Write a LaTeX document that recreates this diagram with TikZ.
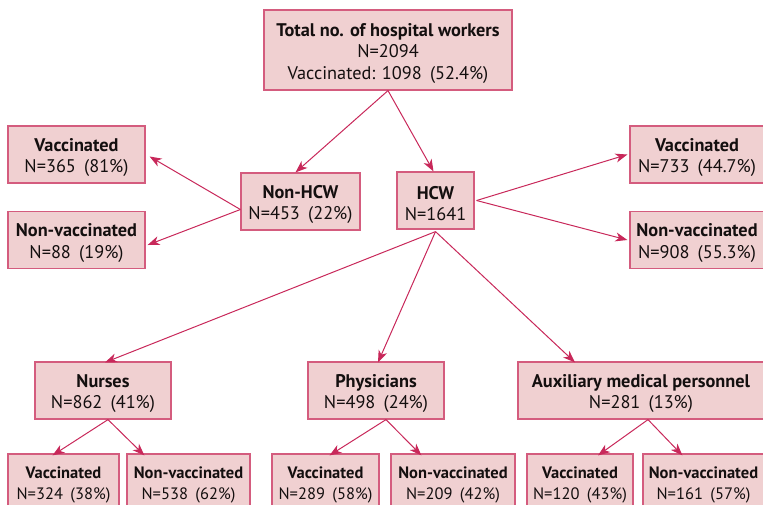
\documentclass[tikz,border=0pt]{standalone}
\usepackage{fontspec}
\setmainfont{PT Sans}
\usetikzlibrary{arrows.meta,calc}
\definecolor{boxfill}{RGB}{240,208,209}
\definecolor{boxline}{RGB}{212,92,126}
\definecolor{arrowc}{RGB}{200,40,90}
\definecolor{txt}{RGB}{20,15,15}
\newcommand\gp{\hspace{0.45em}}
\newcommand\upA{\rule{0pt}{19.5pt}}
\newcommand\upB{\rule{0pt}{16.5pt}}
\begin{document}
\begin{tikzpicture}[x=1pt,y=-1pt,
  box/.style={draw=boxline, fill=boxfill, line width=1.2pt, align=center, inner sep=0pt, text=txt,
    font=\fontsize{18.3}{21.5}\selectfont},
  small/.style={font=\fontsize{16.5}{21}\selectfont},
  arr/.style={draw=arrowc, line width=1pt, -{Stealth[length=12pt,width=9pt,inset=3.5pt]}}]
\useasboundingbox (0,0) rectangle (763,504);
\clip (0,0) rectangle (763,504);
% top
\node[box, minimum width=248pt, minimum height=80pt] (total) at (388,50)
  {\upA\textbf{Total no. of hospital workers}\\N=2094\\Vaccinated: 1098\gp(52.4\%)};
% level 2
\node[box, minimum width=119pt, minimum height=57pt] (nonhcw) at (300.5,201.5) {\upA\textbf{Non-HCW}\\N=453\gp(22\%)};
\node[box, minimum width=77pt, minimum height=57pt] (hcw) at (435.5,200.5) {\upA\textbf{HCW}\\N=1641};
\node[box, minimum width=137pt, minimum height=57pt] (lv) at (76.5,154.5) {\upA\textbf{Vaccinated}\\N=365\gp(81\%)};
\node[box, minimum width=137pt, minimum height=57pt] (lnv) at (76.5,240) {\upA\textbf{Non-vaccinated}\\N=88\gp(19\%)};
\node[box, minimum width=134pt, minimum height=57pt] (rv) at (697,154.5) {\upA\textbf{Vaccinated}\\N=733\gp(44.7\%)};
\node[box, minimum width=134pt, minimum height=57pt] (rnv) at (697,240) {\upA\textbf{Non-vaccinated}\\N=908\gp(55.3\%)};
% level 3
\node[box, minimum width=136pt, minimum height=57pt] (nurses) at (103,390.5) {\upA\textbf{Nurses}\\N=862\gp(41\%)};
\node[box, minimum width=136pt, minimum height=57pt] (phys) at (376,390.5) {\upA\textbf{Physicians}\\N=498\gp(24\%)};
\node[box, minimum width=246pt, minimum height=57pt] (aux) at (641,390.5) {\upA\textbf{Auxiliary medical personnel}\\N=281\gp(13\%)};
% level 4
\node[box, small, minimum width=111pt, minimum height=57pt] (nv) at (63.5,482.5) {\upB\textbf{Vaccinated}\\N=324\gp(38\%)};
\node[box, small, minimum width=123pt, minimum height=57pt] (nn) at (188.5,482.5) {\upB\textbf{Non-vaccinated}\\N=538\gp(62\%)};
\node[box, small, minimum width=107pt, minimum height=57pt] (pv) at (325.5,482.5) {\upB\textbf{Vaccinated}\\N=289\gp(58\%)};
\node[box, small, minimum width=124pt, minimum height=57pt] (pn) at (453,482.5) {\upB\textbf{Non-vaccinated}\\N=209\gp(42\%)};
\node[box, small, minimum width=106pt, minimum height=57pt] (av) at (580,482.5) {\upB\textbf{Vaccinated}\\N=120\gp(43\%)};
\node[box, small, minimum width=121pt, minimum height=57pt] (an) at (703.5,482.5) {\upB\textbf{Non-vaccinated}\\N=161\gp(57\%)};
% connectors
\draw[arr] (total.south) -- ([xshift=-5pt]nonhcw.north);
\draw[arr] (total.south) -- ([xshift=-2pt]hcw.north);
\draw[arr] ([yshift=-8pt]nonhcw.west) -- ([xshift=4pt,yshift=-2pt]lv.east);
\draw[arr] ([yshift=-8pt]nonhcw.west) -- ([xshift=2pt,yshift=-5pt]lnv.east);
\draw[arr] ([xshift=2pt]hcw.east) -- ([xshift=-2pt]rv.west);
\draw[arr] ([xshift=2pt]hcw.east) -- ([xshift=-2pt]rnv.west);
\draw[arr] ([yshift=-2pt]hcw.south) -- ([xshift=2pt,yshift=-1pt]nurses.north);
\draw[arr] ([yshift=-2pt]hcw.south) -- ([xshift=2pt,yshift=-1pt]phys.north);
\draw[arr] ([yshift=-2pt]hcw.south) -- ([xshift=-66pt,yshift=-1pt]aux.north);
\draw[arr] ([xshift=5pt]nurses.south) -- ([xshift=-11pt,yshift=-2pt]nv.north);
\draw[arr] ([xshift=5pt]nurses.south) -- ([xshift=18pt,yshift=-2pt]nn.north west);
\draw[arr] ([xshift=10pt]phys.south) -- ([xshift=4pt,yshift=-2pt]pv.north);
\draw[arr] ([xshift=10pt]phys.south) -- ([xshift=31pt,yshift=-2pt]pn.north west);
\draw[arr] ([xshift=7pt]aux.south) -- ([xshift=18pt,yshift=-2pt]av.north);
\draw[arr] ([xshift=7pt]aux.south) -- ([xshift=40pt,yshift=-2pt]an.north west);
\end{tikzpicture}
\end{document}
